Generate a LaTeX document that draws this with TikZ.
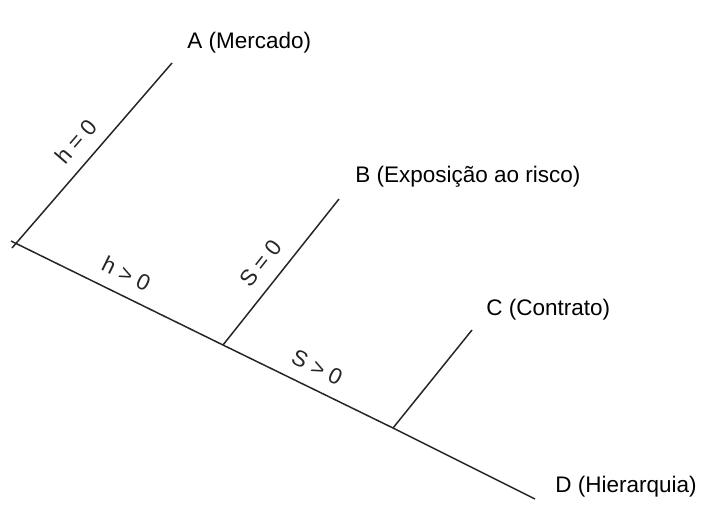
\documentclass[tikz,border=0pt]{standalone}
\usepackage{fontspec}
\setmainfont{Liberation Sans}
\usetikzlibrary{positioning}

\begin{document}
\begin{tikzpicture}[x=0.02cm,y=-0.02cm,
  ramo/.style={line width=0.85pt,black!85},
  rotulo/.style={font=\fontsize{12.8}{15}\selectfont,inner sep=0pt,anchor=west},
  cond/.style={font=\fontsize{12.8}{15}\selectfont,inner sep=0pt,sloped,above=7pt}]
\useasboundingbox (0,0) rectangle (713,521);
% pontos da arvore
\coordinate (O)  at (11,241);
\coordinate (OA) at (12,248);
\coordinate (JB) at (223,345);
\coordinate (JC) at (393,428);
\coordinate (A)  at (172,63);
\coordinate (B)  at (339,199);
\coordinate (C)  at (472,330);
\coordinate (D)  at (535,499);
% ramos
\draw[ramo] (OA) -- (A) node[cond,pos=0.5] {h = 0};
\draw[ramo] (O) -- (JB) node[cond,midway] {h > 0}
                -- (JC) node[cond,midway] {S > 0}
                -- (D);
\draw[ramo] (JB) -- (B) node[cond,pos=0.47] {S = 0};
\draw[ramo] (JC) -- (C);
% rotulos
\node[rotulo] (labA) at (187,43)  {A (Mercado)};
\node[rotulo] (labB) at (355,177) {B (Exposição ao risco)};
\node[rotulo] (labC) at (486,310) {C (Contrato)};
\node[rotulo] (labD) at (555,487) {D (Hierarquia)};
\end{tikzpicture}
\end{document}
